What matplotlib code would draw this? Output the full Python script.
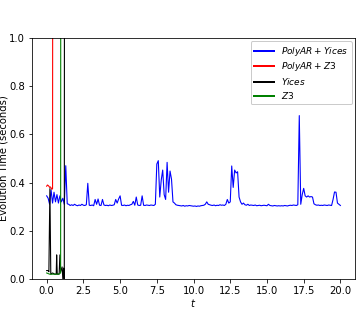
import numpy as np
import matplotlib
matplotlib.use("Agg")
import matplotlib.pyplot as plt

# PolyAR + Yices, sampled every 0.1 on t in [0, 20]
t_polyar_yices = np.round(np.arange(0, 20.01, 0.1), 2)
polyar_yices = [
    0.345, 0.335, 0.310, 0.370, 0.315, 0.360, 0.320, 0.350, 0.315, 0.345,
    0.320, 0.335, 0.310, 0.470, 0.312, 0.310, 0.305, 0.308, 0.305, 0.310,
    0.306, 0.304, 0.307, 0.305, 0.310, 0.306, 0.305, 0.308, 0.397, 0.306,
    0.305, 0.307, 0.304, 0.330, 0.310, 0.332, 0.306, 0.305, 0.330, 0.307,
    0.305, 0.306, 0.304, 0.307, 0.305, 0.306, 0.308, 0.330, 0.315, 0.332,
    0.345, 0.306, 0.305, 0.307, 0.304, 0.306, 0.305, 0.308, 0.310, 0.322,
    0.306, 0.340, 0.307, 0.305, 0.306, 0.345, 0.306, 0.305, 0.307, 0.306,
    0.305, 0.307, 0.306, 0.305, 0.310, 0.477, 0.491, 0.340, 0.410, 0.452,
    0.350, 0.330, 0.484, 0.360, 0.448, 0.414, 0.320, 0.315, 0.308, 0.306,
    0.305, 0.304, 0.303, 0.305, 0.302, 0.304, 0.303, 0.305, 0.304, 0.303,
    0.302, 0.303, 0.301, 0.303, 0.302, 0.304, 0.305, 0.306, 0.310, 0.320,
    0.310, 0.308, 0.306, 0.305, 0.307, 0.304, 0.306, 0.305, 0.308, 0.306,
    0.307, 0.305, 0.310, 0.330, 0.315, 0.320, 0.469, 0.380, 0.452, 0.440,
    0.445, 0.340, 0.320, 0.310, 0.315, 0.308, 0.306, 0.310, 0.305, 0.307,
    0.306, 0.305, 0.307, 0.304, 0.305, 0.306, 0.304, 0.305, 0.306, 0.305,
    0.304, 0.310, 0.305, 0.304, 0.303, 0.305, 0.304, 0.303, 0.304, 0.303,
    0.304, 0.303, 0.305, 0.304, 0.303, 0.305, 0.306, 0.305, 0.307, 0.306,
    0.305, 0.308, 0.678, 0.310, 0.350, 0.376, 0.345, 0.340, 0.345, 0.340,
    0.342, 0.340, 0.312, 0.308, 0.306, 0.307, 0.305, 0.306, 0.305, 0.307,
    0.306, 0.305, 0.307, 0.306, 0.305, 0.330, 0.361, 0.360, 0.315, 0.310,
    0.305,
]

# PolyAR + Z3 (blows up right after t ~ 0.45)
t_polyar_z3 = [0.0, 0.05, 0.1, 0.15, 0.2, 0.25, 0.3, 0.35, 0.4, 0.45]
polyar_z3 = [0.385, 0.390, 0.388, 0.385, 0.380, 0.382, 0.378, 0.372, 0.375, 5.0]

# Yices alone
t_yices = [0.0, 0.1, 0.15, 0.22, 0.28, 0.4, 0.55, 0.65, 0.68, 0.72,
           0.85, 0.9, 0.95, 1.05, 1.1, 1.15, 1.2, 1.24]
yices = [0.035, 0.035, 0.030, 0.375, 0.020, 0.025, 0.020, 0.020, 0.100, 0.020,
         0.020, 0.100, 0.030, 0.050, 0.000, 0.045, 0.000, 5.0]

# Z3 alone
t_z3 = [0.0, 0.2, 0.5, 0.8, 0.95, 0.98]
z3 = [0.025, 0.020, 0.020, 0.020, 0.025, 5.0]

fig = plt.figure(figsize=(359 / 72, 314 / 72), dpi=72)
ax = fig.add_axes([0.0891, 0.1115, 0.900, 0.7675])

ax.plot(t_polyar_yices, polyar_yices, color="b", lw=1.1, label=r"$PolyAR + Yices$")
ax.plot(t_polyar_z3, polyar_z3, color="r", lw=1.1, label=r"$PolyAR + Z3$")
ax.plot(t_yices, yices, color="k", lw=1.1, label=r"$Yices$")
ax.plot(t_z3, z3, color="g", lw=1.1, label=r"$Z3$")

ax.set_xlim(-1, 21)
ax.set_ylim(0, 1)
ax.set_xticks([0, 2.5, 5, 7.5, 10, 12.5, 15, 17.5, 20])
ax.set_xlabel(r"$t$", labelpad=1)
ax.set_ylabel("Evolution Time (seconds)", labelpad=1)

leg = ax.legend(loc="upper right", fontsize=9, labelspacing=0.3,
                borderaxespad=0.35, handlelength=2.2)
for line in leg.get_lines():
    line.set_linewidth(2)
leg.get_frame().set_edgecolor("0.75")

fig.savefig("out.png", dpi=72)
